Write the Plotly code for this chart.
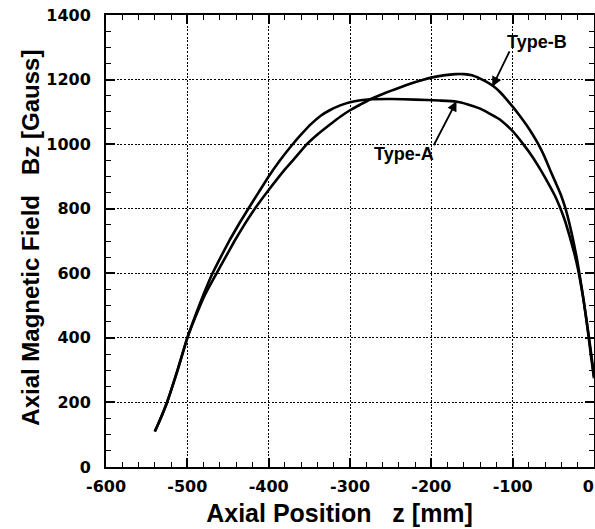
import plotly.graph_objects as go

# ---- data ----
type_a_z = [-540, -535, -525, -512, -500, -490, -480, -469, -458, -447, -436, -425, -412, -400,
            -386, -372, -360, -348, -336, -325, -312, -300, -287, -275, -250, -220, -190,
            -170, -155, -140, -125, -115, -100, -88, -76, -66, -56, -48, -42, -36, -30,
            -24, -19, -13, -8, -4, 0]
type_a_b = [110, 138, 200, 300, 400, 470, 535, 600, 655, 707, 755, 800, 852, 900,
            950, 995, 1030, 1062, 1088, 1105, 1120, 1130, 1136, 1139, 1140, 1138, 1135,
            1132, 1123, 1110, 1090, 1075, 1040, 1003, 962, 922, 878, 840, 805, 765, 715,
            660, 605, 520, 430, 350, 275]

type_b_z = [-540, -535, -525, -512, -500, -490, -478, -464, -453, -442, -430, -417, -400,
            -380, -366, -353, -340, -325, -312, -300, -287, -275, -262, -250, -237, -225,
            -212, -200, -185, -170, -160, -150, -140, -132, -124, -115, -108, -100, -92,
            -83, -76, -68.5, -61, -54, -47, -41, -35, -30, -25, -21, -17, -13, -9, -5, -2, 0]
type_b_b = [110, 138, 200, 300, 400, 465, 535, 600, 650, 700, 750, 800, 858,
            922, 962, 1000, 1030, 1060, 1085, 1105, 1123, 1139, 1153, 1165, 1177, 1188,
            1198, 1206, 1213, 1217, 1217, 1213, 1203, 1193, 1180, 1160, 1140, 1116, 1090,
            1059, 1032, 1000, 962, 920, 880, 845, 800, 752, 695, 645, 585, 520, 452, 380, 322, 280]

x_ticks = [-600, -500, -400, -300, -200, -100, 0]
x_tick_labels = ["-600", "-500", "-400", "-300", "-200", "-100", "0"]
y_ticks = [0, 200, 400, 600, 800, 1000, 1200, 1400]

labels = ["Type-A", "Type-B"]
label_pos = [(-234, 968), (-70, 1315)]
arrow_head = [(-169, 1133), (-125, 1178)]
arrow_tail = [(-198, 992), (-103, 1292)]

NB = "\u00a0"
ZW = "\u200b"
x_title = "Axial Position" + NB * 3 + "z [mm]" + NB * 3 + ZW
y_title = ZW + NB + "Axial Magnetic Field" + NB * 3 + "Bz [Gauss]"
# keep the last tick label ("0") inside the page edge
x_tick_text = [t if t != "0" else t + NB * 2 + ZW for t in x_tick_labels]

tick_font = dict(family="DejaVu Sans", size=16, color="black", weight="bold")
xtitle_font = dict(family="Liberation Sans", size=25, color="black", weight="bold")
ytitle_font = dict(family="Liberation Sans", size=24, color="black", weight="bold")
ann_font = dict(family="Liberation Sans", size=18, color="black", weight="bold")

fig = go.Figure()
for zs, bs, name in [(type_a_z, type_a_b, labels[0]), (type_b_z, type_b_b, labels[1])]:
    fig.add_trace(go.Scatter(x=zs, y=bs, mode="lines", name=name,
                             line=dict(color="black", width=2.6, shape="spline", smoothing=0.4),
                             showlegend=False))

common = dict(
    showline=True, linecolor="black", linewidth=2, mirror="allticks",
    ticks="inside", ticklen=9, tickwidth=1.5, tickcolor="black",
    showgrid=True, gridcolor="black", gridwidth=1.4, griddash="2px,1.6px",
    zeroline=False, tickfont=tick_font, automargin=False, ticklabeloverflow="allow",
)

fig.update_xaxes(range=[-600, 0], tickvals=x_ticks, ticktext=x_tick_text,
                 minor=dict(dtick=20, tick0=0, ticks="inside", ticklen=5, tickwidth=1.3,
                            tickcolor="black", showgrid=False),
                 title=dict(text=x_title, font=xtitle_font, standoff=9),
                 ticklabelstandoff=4,
                 **common)
fig.update_yaxes(range=[0, 1400], tickvals=y_ticks, ticktext=[str(v) for v in y_ticks],
                 minor=dict(dtick=50, tick0=0, ticks="inside", ticklen=5, tickwidth=1.3,
                            tickcolor="black", showgrid=False),
                 title=dict(text=y_title, font=ytitle_font, standoff=0),
                 ticklabelstandoff=10,
                 **common)

for lab, (tx, ty), (hx, hy), (ax, ay) in zip(labels, label_pos, arrow_head, arrow_tail):
    fig.add_annotation(x=tx, y=ty, xref="x", yref="y", text=lab, showarrow=False, font=ann_font)
    fig.add_annotation(x=hx, y=hy, xref="x", yref="y", ax=ax, ay=ay, axref="x", ayref="y",
                       text="", showarrow=True, arrowhead=2, arrowsize=1.1, arrowwidth=1.8,
                       arrowcolor="black", standoff=0, startstandoff=0)

fig.update_layout(
    width=595, height=529,
    margin=dict(l=106, r=1, t=15, b=62),
    plot_bgcolor="white", paper_bgcolor="white",
    font=dict(family="Liberation Sans", color="black"),
)

fig.write_html("out.html", config={"displayModeBar": False},
               post_script="document.body.style.margin='0';document.body.style.overflow='hidden';")
